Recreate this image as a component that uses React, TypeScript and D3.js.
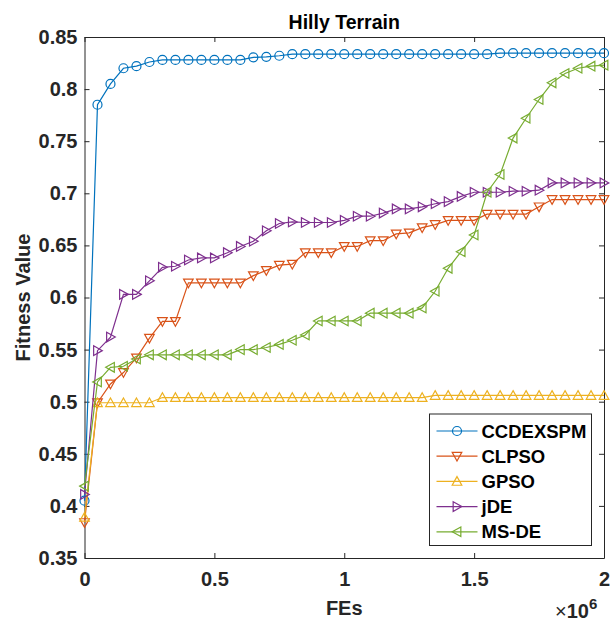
import React, { useEffect, useRef } from 'react';
import * as d3 from 'd3';

const width = 615;
const height = 622;
const margin = { top: 37, left: 84.5, right: 11, bottom: 64 };

// FEs in units of 10^6
const fes = [0, 0.05, 0.1, 0.15, 0.2, 0.25, 0.3, 0.35, 0.4, 0.45, 0.5, 0.55, 0.6, 0.65, 0.7, 0.75, 0.8, 0.85, 0.9, 0.95,
  1, 1.05, 1.1, 1.15, 1.2, 1.25, 1.3, 1.35, 1.4, 1.45, 1.5, 1.55, 1.6, 1.65, 1.7, 1.75, 1.8, 1.85, 1.9, 1.95, 2];

const ccdexspm = [0.405, 0.785, 0.805, 0.820, 0.822, 0.826, 0.828, 0.828, 0.828, 0.828,
  0.828, 0.828, 0.828, 0.8305, 0.831, 0.832, 0.8335, 0.8335, 0.8335, 0.8335,
  0.8335, 0.8335, 0.8335, 0.8335, 0.8335, 0.8335, 0.8335, 0.8335, 0.8335, 0.8335,
  0.8335, 0.8335, 0.8345, 0.8345, 0.8345, 0.8345, 0.8345, 0.8345, 0.8345, 0.8345, 0.8345];
const clpso = [0.384, 0.499, 0.517, 0.528, 0.542, 0.561, 0.577, 0.577, 0.614, 0.614,
  0.614, 0.614, 0.614, 0.621, 0.626, 0.631, 0.632, 0.643, 0.643, 0.643,
  0.649, 0.649, 0.6545, 0.6545, 0.661, 0.662, 0.667, 0.670, 0.674, 0.674,
  0.674, 0.680, 0.680, 0.680, 0.680, 0.687, 0.694, 0.694, 0.694, 0.694, 0.694];
const gpso = [0.389, 0.499, 0.499, 0.499, 0.499, 0.499, 0.504, 0.504, 0.504, 0.504,
  0.504, 0.504, 0.504, 0.504, 0.504, 0.504, 0.504, 0.504, 0.504, 0.504,
  0.504, 0.504, 0.504, 0.504, 0.504, 0.504, 0.504, 0.506, 0.506, 0.506,
  0.506, 0.506, 0.506, 0.506, 0.506, 0.506, 0.506, 0.506, 0.506, 0.506, 0.506];
const jde = [0.411, 0.549, 0.562, 0.603, 0.603, 0.616, 0.629, 0.630, 0.636, 0.638,
  0.638, 0.643, 0.649, 0.654, 0.664, 0.671, 0.6725, 0.672, 0.672, 0.672,
  0.674, 0.678, 0.678, 0.681, 0.685, 0.685, 0.687, 0.690, 0.692, 0.697,
  0.701, 0.701, 0.701, 0.702, 0.702, 0.703, 0.710, 0.710, 0.710, 0.710, 0.710];
const msde = [0.419, 0.519, 0.533, 0.534, 0.541, 0.545, 0.545, 0.545, 0.545, 0.545,
  0.545, 0.545, 0.550, 0.550, 0.552, 0.555, 0.559, 0.564, 0.5775, 0.5775,
  0.5775, 0.5775, 0.585, 0.585, 0.585, 0.585, 0.590, 0.606, 0.628, 0.644,
  0.660, 0.701, 0.718, 0.753, 0.772, 0.790, 0.806, 0.815, 0.820, 0.822, 0.823];

const seriesNames = ['CCDEXSPM', 'CLPSO', 'GPSO', 'jDE', 'MS-DE'];
const seriesValues = [ccdexspm, clpso, gpso, jde, msde];
const seriesColors = ['#0072BD', '#D95319', '#EDB120', '#7E2F8E', '#77AC30'];
const seriesMarkers = ['circle', 'down', 'up', 'right', 'left'];

const yTicks = [0.35, 0.4, 0.45, 0.5, 0.55, 0.6, 0.65, 0.7, 0.75, 0.8, 0.85];
const xTicks = [0, 0.5, 1, 1.5, 2];

const font = 'Liberation Sans, Arial, sans-serif';
const axisColor = '#262626';

function markerPath(kind: string) {
  const s = 4.8;
  if (kind === 'circle') {
    return `M${-4.5},0a4.5,4.5 0 1,0 9,0a4.5,4.5 0 1,0 -9,0Z`;
  }
  if (kind === 'up') return `M0,${-s}L${s},${s * 0.8}L${-s},${s * 0.8}Z`;
  if (kind === 'down') return `M0,${s}L${s},${-s * 0.8}L${-s},${-s * 0.8}Z`;
  if (kind === 'right') return `M${s},0L${-s * 0.8},${s}L${-s * 0.8},${-s}Z`;
  return `M${-s},0L${s * 0.8},${s}L${s * 0.8},${-s}Z`;
}

export default function App() {
  const ref = useRef<SVGSVGElement>(null);

  useEffect(() => {
    const svg = d3.select(ref.current);
    svg.selectAll('*').remove();

    const x = d3.scaleLinear([0, 2], [margin.left, width - margin.right]);
    const y = d3.scaleLinear([0.35, 0.85], [height - margin.bottom, margin.top]);
    const fmt = (d: any) => String(+(+d).toFixed(2));

    // axes
    const styleAxis = (g: any) => {
      g.select('.domain').attr('stroke', axisColor).attr('stroke-width', 1);
      g.selectAll('.tick line').attr('stroke', axisColor).attr('stroke-width', 1);
      g.selectAll('.tick text')
        .attr('fill', axisColor)
        .attr('font-family', font)
        .attr('font-weight', 'bold')
        .attr('font-size', 20);
    };

    svg.append('g')
      .attr('transform', `translate(0,${y(0.35)})`)
      .call(d3.axisBottom(x).tickValues(xTicks).tickFormat(fmt).tickSize(-5).tickSizeOuter(0).tickPadding(14))
      .call(styleAxis);
    svg.append('g')
      .attr('transform', `translate(0,${y(0.85)})`)
      .call(d3.axisTop(x).tickValues(xTicks).tickFormat(() => '').tickSize(-5).tickSizeOuter(0))
      .call(styleAxis);
    svg.append('g')
      .attr('transform', `translate(${x(0)},0)`)
      .call(d3.axisLeft(y).tickValues(yTicks).tickFormat(fmt).tickSize(-5).tickSizeOuter(0).tickPadding(7))
      .call(styleAxis);
    svg.append('g')
      .attr('transform', `translate(${x(2)},0)`)
      .call(d3.axisRight(y).tickValues(yTicks).tickFormat(() => '').tickSize(-5).tickSizeOuter(0))
      .call(styleAxis);

    // series
    const line = d3.line<number>().x((d, i) => x(fes[i])).y(d => y(d));
    seriesValues.forEach((vals, k) => {
      const g = svg.append('g');
      g.append('path')
        .attr('d', line(vals))
        .attr('fill', 'none')
        .attr('stroke', seriesColors[k])
        .attr('stroke-width', 1.2);
      g.selectAll('path.mk')
        .data(vals)
        .join('path')
        .attr('class', 'mk')
        .attr('transform', (d, i) => `translate(${x(fes[i])},${y(d)})`)
        .attr('d', markerPath(seriesMarkers[k]))
        .attr('fill', 'none')
        .attr('stroke', seriesColors[k])
        .attr('stroke-width', 1.2);
    });

    // title & labels
    svg.append('text')
      .attr('x', (x(0) + x(2)) / 2).attr('y', 29)
      .attr('text-anchor', 'middle')
      .attr('font-family', font).attr('font-weight', 'bold').attr('font-size', 19.5)
      .attr('fill', '#000')
      .text('Hilly Terrain');
    svg.append('text')
      .attr('x', (x(0) + x(2)) / 2).attr('y', 615)
      .attr('text-anchor', 'middle')
      .attr('font-family', font).attr('font-weight', 'bold').attr('font-size', 20)
      .attr('fill', axisColor)
      .text('FEs');
    svg.append('text')
      .attr('transform', `translate(30,${(y(0.35) + y(0.85)) / 2}) rotate(-90)`)
      .attr('text-anchor', 'middle')
      .attr('font-family', font).attr('font-weight', 'bold').attr('font-size', 20)
      .attr('fill', axisColor)
      .text('Fitness Value');
    const exp = svg.append('text')
      .attr('x', 555).attr('y', 618)
      .attr('font-family', font).attr('font-size', 20)
      .attr('fill', axisColor);
    exp.append('tspan').text('×');
    exp.append('tspan').attr('font-weight', 'bold').text('10');
    exp.append('tspan').attr('font-weight', 'bold').attr('font-size', 15).attr('dy', -9).text('6');

    // legend
    const lg = svg.append('g').attr('transform', 'translate(429.5,414)');
    lg.append('rect')
      .attr('width', 162).attr('height', 131.5)
      .attr('fill', '#fff').attr('stroke', axisColor).attr('stroke-width', 1);
    seriesNames.forEach((name, k) => {
      const cy = 17 + k * 25.2;
      lg.append('line')
        .attr('x1', 7).attr('x2', 48).attr('y1', cy).attr('y2', cy)
        .attr('stroke', seriesColors[k]).attr('stroke-width', 1.2);
      lg.append('path')
        .attr('transform', `translate(27.5,${cy})`)
        .attr('d', markerPath(seriesMarkers[k]))
        .attr('fill', 'none').attr('stroke', seriesColors[k]).attr('stroke-width', 1.2);
      lg.append('text')
        .attr('x', 52).attr('y', cy).attr('dy', '0.36em')
        .attr('font-family', font).attr('font-weight', 'bold').attr('font-size', 18.5)
        .attr('fill', '#000')
        .text(name);
    });
  }, []);

  return (
    <svg ref={ref} width={width} height={height}
      style={{ position: 'absolute', left: 0, top: 0, background: '#fff' }} />
  );
}
